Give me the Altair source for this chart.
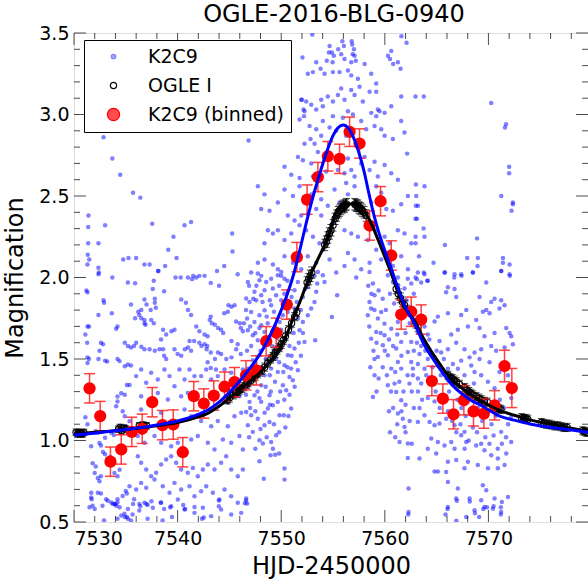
import altair as alt
import pandas as pd

# ---------------- data ----------------
SERIES = ["K2C9", "OGLE I", "K2C9 (binned)"]

# K2C9 unbinned photometry (HJD-2450000, magnification)
K2C9_POINTS = [
    # early, above 2
    (7532.85,2.86),(7533.7,2.73),(7534.46,2.63),(7535.7,2.52),(7536.4,2.49),(7531.4,2.38),(7531.37,2.31),
    (7533.0,2.32),(7537.55,2.33),(7540.67,2.32),(7541.3,2.34),(7545.27,2.27),(7531.37,2.21),(7532.36,2.21),
    (7539.6,2.25),(7539.1,2.17),(7539.9,2.12),(7545.3,2.16),(7531.33,2.14),(7531.47,2.11),(7531.3,2.08),
    (7532.36,2.06),(7534.75,2.11),(7535.26,2.12),(7536.0,2.12),(7536.8,2.08),(7537.3,2.08),(7538.16,2.04),
    (7538.8,2.07),(7544.5,2.07),(7543.8,2.04),(7532.36,2.02),(7545.8,2.02),(7533.7,2.0),(7539.8,2.0),
    (7540.3,2.0),(7541.0,2.0),(7541.4,1.99),(7552.05,3.35),(7552.0,3.09),(7552.15,3.03),(7552.2,2.99),
    # early, below 2
    (7532.4,2.03),(7531.3,1.91),(7531.2,1.92),(7532.85,1.86),(7532.9,1.845),(7533.65,1.78),(7532.36,1.77),
    (7531.3,1.70),(7531.45,1.70),(7531.1,1.65),(7531.27,1.60),(7532.8,1.59),(7532.6,1.6),(7532.46,1.55),
    (7531.3,1.51),(7531.45,1.50),(7532.36,1.50),(7533.0,1.49),(7533.2,1.485),(7531.3,1.475),(7531.1,1.143),
    (7531.3,1.10),(7531.66,0.965),(7531.8,0.86),(7532.1,0.84),(7532.0,0.80),(7532.3,0.77),(7532.46,0.75),
    (7532.6,0.78),(7531.66,0.68),(7531.7,0.64),(7532.3,0.68),(7532.6,0.675),(7533.1,0.64),(7533.26,0.63),
    (7533.6,0.62),(7533.9,0.61),(7534.07,0.60),(7534.2,0.62),(7534.4,0.59),(7534.2,0.64),(7534.56,0.54),
    (7534.9,0.53),(7535.2,0.58),(7535.1,0.53),(7535.7,0.61),(7535.8,0.64),(7536.0,0.70),(7535.0,0.69),
    (7535.36,0.72),(7533.9,0.80),(7534.2,0.78),(7534.4,0.82),(7533.5,0.90),(7533.26,0.89),(7532.8,0.93),
    (7533.0,0.915),(7532.6,0.97),(7532.46,0.985),(7533.0,1.017),(7532.1,1.057),(7532.3,1.047),(7533.6,1.047),
    (7533.85,1.033),(7535.2,1.057),(7535.0,1.088),(7535.36,1.118),(7534.9,1.149),(7534.7,1.18),(7534.07,1.21),
    (7534.2,1.24),(7534.2,1.27),(7534.56,1.29),(7534.9,1.28),(7535.1,1.34),(7535.36,1.34),(7534.9,1.456),
    (7535.2,1.466),(7535.5,1.46),(7534.9,1.60),(7535.2,1.58),(7535.5,1.57),(7535.8,1.58),(7534.2,1.50),
    (7534.4,1.487),(7534.2,1.70),(7534.07,1.685),(7535.5,1.835),(7535.9,1.75),(7536.2,1.79),(7536.5,1.80),
    (7536.8,1.865),(7537.0,1.835),(7537.4,1.80),(7537.8,1.845),(7537.9,1.815),(7536.3,1.77),(7536.5,1.75),
    (7536.8,1.72),(7536.9,1.71),(7535.2,1.97),(7535.9,1.965),(7537.7,1.98),(7538.1,2.04),(7538.7,1.915),
    (7536.0,1.60),(7536.5,1.575),(7536.8,1.56),(7537.3,1.56),(7537.8,1.55),(7538.25,1.56),(7538.4,1.62),
    (7538.6,1.56),(7538.7,1.52),(7538.9,1.50),(7539.4,1.67),(7539.7,1.68),(7540.35,1.865),(7540.8,1.845),
    (7541.0,1.80),(7541.3,1.77),(7541.5,2.01),(7541.8,2.0),(7542.1,2.01),(7542.6,2.01),(7543.2,1.967),
    (7544.0,1.95),(7537.6,1.93),(7537.8,1.87),(7536.8,1.74),(7537.45,1.74),(7537.7,1.72),(7538.6,1.68),
    (7538.9,1.65),(7539.7,1.56),(7540.0,1.53),(7540.35,1.52),(7540.7,1.56),(7541.0,1.57),(7541.3,1.55),
    (7541.15,1.61),(7541.6,1.61),(7542.1,1.60),(7542.6,1.59),(7542.86,1.58),(7541.8,1.70),(7542.1,1.67),
    (7542.6,1.65),(7542.9,1.64),(7543.1,1.74),(7543.3,1.72),(7543.6,1.71),(7543.2,1.76),(7543.9,1.69),
    (7544.2,1.68),(7544.4,1.66),(7544.5,1.78),(7544.85,1.79),(7544.9,1.83),(7545.2,1.82),(7545.5,1.83),
    (7545.65,1.73),(7546.0,1.72),(7546.1,1.69),(7546.3,1.67),(7546.4,1.72),(7545.2,1.61),(7545.8,1.59),
    (7545.65,1.56),(7546.1,1.53),(7543.9,1.54),(7544.2,1.53),(7544.7,1.50),(7545.2,1.51),(7542.3,1.58),
    (7542.8,1.56),(7543.2,1.54),(7543.6,1.50),(7542.9,1.48),(7543.2,1.445),(7543.7,1.435),
    # early, bottom edge
    (7531.66,0.65),(7531.8,0.60),(7532.0,0.58),(7533.75,0.61),(7534.0,0.61),(7534.7,0.66),(7535.1,0.675),
    (7536.3,0.61),(7537.0,0.61),(7536.3,0.57),(7534.87,0.55),(7535.2,0.52),(7534.2,0.52),(7532.9,0.51),
    (7531.5,0.59),(7532.75,0.60),(7535.65,0.546),(7535.5,0.51),(7536.4,0.597),(7537.1,0.604),(7537.47,0.627),
    (7538.37,0.62),(7538.7,0.58),(7539.28,0.59),(7539.46,0.53),(7538.55,0.51),(7537.1,0.52),(7542.53,0.528),
    (7542.36,0.52),(7541.63,0.592),(7540.54,0.604),(7540.72,0.58),(7543.98,0.597),(7543.98,0.632),
    (7546.5,0.615),(7546.6,0.632),
    # 7536-7546, below 1.5
    (7536.16,0.904),(7536.48,0.863),(7536.97,0.822),(7537.45,0.781),(7537.93,0.802),(7538.41,0.853),
    (7538.9,0.883),(7539.38,0.904),(7539.86,0.863),(7540.34,0.822),(7540.99,0.802),(7541.47,0.832),
    (7541.95,0.781),(7542.44,0.822),(7542.92,0.853),(7543.56,0.822),(7544.2,0.863),(7544.69,0.904),
    (7545.17,0.822),(7545.81,0.781),(7546.3,0.822),(7536.48,0.74),(7536.97,0.71),(7537.77,0.761),
    (7538.57,0.72),(7539.22,0.679),(7539.7,0.74),(7540.34,0.699),(7541.15,0.72),(7541.63,0.658),
    (7542.27,0.689),(7542.76,0.72),(7543.4,0.679),(7544.04,0.638),(7544.53,0.699),(7545.17,0.658),
    (7545.81,0.618),(7536.8,0.618),(7537.61,0.587),(7538.41,0.618),(7539.38,0.597),(7540.02,0.638),
    (7540.67,0.577),(7541.63,0.556),(7542.44,0.587),(7543.24,0.536),(7544.2,0.577),(7545.17,0.546),
    (7546.14,0.556),(7536.16,1.027),(7536.8,0.986),(7537.77,1.027),(7538.41,0.986),(7539.38,0.965),
    (7540.02,0.986),(7541.31,1.006),(7541.95,1.027),(7542.92,0.986),(7543.56,0.945),(7544.37,1.006),
    (7545.17,0.986),(7545.97,1.027),(7546.3,0.945),(7542.27,1.119),(7543.24,1.088),(7543.88,1.119),
    (7544.85,1.088),(7545.49,1.149),(7546.14,1.17),(7541.31,1.149),(7540.67,1.19),(7538.41,1.17),
    (7536.48,1.19),(7536.0,1.395),(7536.48,1.436),(7536.97,1.354),(7537.45,1.415),(7538.09,1.374),
    (7538.73,1.436),(7539.22,1.395),(7539.7,1.333),(7540.18,1.436),(7540.67,1.374),(7541.15,1.436),
    (7541.63,1.395),(7542.27,1.395),(7542.76,1.436),(7543.24,1.374),(7543.88,1.395),(7544.53,1.436),
    (7545.17,1.415),(7545.81,1.374),(7546.3,1.436),(7536.48,1.272),(7538.09,1.292),(7539.06,1.251),
    (7540.34,1.272),(7540.99,1.292),(7542.27,1.231),(7543.56,1.251),(7544.85,1.231),(7545.97,1.272),
    # peak region, above 2
    (7554.67,3.42),(7554.89,3.38),(7555.08,3.36),(7555.79,3.37),(7556.05,3.42),(7557.02,3.40),(7557.08,3.36),
    (7556.76,3.32),(7556.11,3.34),(7554.96,3.32),(7560.62,3.39),(7560.3,3.36),
    (7552.57,3.25),(7553.06,3.26),(7553.8,3.28),(7554.18,3.25),(7554.99,3.26),(7555.63,3.26),(7556.44,3.27),
    (7556.76,3.24),(7557.4,3.22),(7558.69,3.25),(7559.17,3.19),(7561.26,3.32),(7561.52,3.28),(7553.38,3.32),
    (7558.05,3.31),
    (7552.41,3.08),(7552.9,3.06),(7553.86,3.09),(7554.5,3.11),(7554.99,3.08),(7555.47,3.12),(7555.79,3.16),
    (7556.11,3.09),(7556.76,3.15),(7557.08,3.12),(7557.56,3.17),(7557.88,3.08),(7558.53,3.14),(7559.17,3.14),
    (7559.33,3.03),(7559.98,3.01),(7560.62,3.05),(7561.58,3.11),(7552.25,3.02),(7553.38,3.03),(7554.02,3.05),
    (7551.93,3.09),
    (7551.77,2.97),(7552.74,2.93),(7553.38,2.91),(7554.02,2.96),(7554.67,2.92),(7554.99,2.99),(7555.95,2.98),
    (7556.44,3.02),(7556.92,3.0),(7557.72,2.96),(7558.2,2.91),(7558.69,3.01),(7559.01,2.93),(7559.65,2.91),
    (7559.98,2.87),(7560.78,2.85),(7561.9,2.89),(7552.83,2.85),(7552.25,2.82),(7553.22,2.82),(7553.86,2.87),
    (7555.31,2.90),(7556.27,2.87),(7559.17,2.99),(7559.49,3.02),(7546.85,2.84),(7561.58,2.96),
    (7551.61,2.74),(7552.09,2.72),(7552.9,2.70),(7553.54,2.77),(7554.34,2.65),(7555.47,2.66),(7556.11,2.64),
    (7556.76,2.66),(7557.72,2.70),(7558.05,2.74),(7558.53,2.66),(7559.01,2.71),(7559.33,2.62),(7559.98,2.69),
    (7560.62,2.64),(7561.26,2.60),(7562.16,2.76),(7550.32,2.68),(7550.97,2.63),(7551.77,2.61),(7553.06,2.62),
    (7556.44,2.73),(7557.08,2.62),
    (7547.75,2.56),(7548.39,2.51),(7550.32,2.54),(7551.13,2.50),(7551.77,2.56),(7552.25,2.46),(7552.9,2.51),
    (7553.38,2.42),(7553.86,2.48),(7554.5,2.44),(7555.15,2.54),(7555.63,2.46),(7556.27,2.58),(7556.44,2.51),
    (7557.08,2.56),(7557.56,2.44),(7558.69,2.46),(7559.17,2.56),(7559.65,2.52),(7560.14,2.42),(7560.78,2.41),
    (7561.58,2.45),(7562.23,2.50),(7548.07,2.42),(7548.87,2.41),(7549.68,2.46),(7550.64,2.38),(7551.93,2.38),
    (7552.57,2.39),(7553.86,2.38),
    (7549.2,2.27),(7549.68,2.29),(7550.32,2.23),(7551.29,2.35),(7551.77,2.32),(7552.41,2.29),(7553.06,2.25),
    (7553.7,2.21),(7554.5,2.25),(7554.99,2.34),(7556.11,2.29),(7556.76,2.27),(7557.4,2.25),(7558.37,2.23),
    (7559.17,2.29),(7559.98,2.25),(7560.46,2.21),(7561.26,2.29),(7561.9,2.27),(7562.55,2.21),(7548.39,2.21),
    (7548.71,2.29),(7550.97,2.27),
    (7547.75,2.09),(7548.39,2.11),(7549.2,2.08),(7549.68,2.05),(7550.32,2.13),(7551.13,2.09),(7551.93,2.05),
    (7552.57,2.13),(7553.38,2.09),(7554.02,2.17),(7554.67,2.11),(7555.31,2.03),(7556.11,2.07),(7556.44,2.15),
    (7557.08,2.11),(7557.72,2.05),(7558.53,2.09),(7559.17,2.17),(7559.65,2.11),(7560.78,2.07),(7561.58,2.13),
    (7562.23,2.05),(7547.1,2.03),(7548.07,2.01),(7550.0,2.01),(7553.22,2.01),(7557.24,2.0),(7561.26,2.0),
    (7553.0,3.49),(7555.9,3.45),(7556.8,3.45),(7556.85,3.43),(7561.6,3.48),(7562.1,3.44),(7554.6,3.38),
    (7555.5,3.40),(7556.9,3.37),(7557.2,3.33),(7560.5,3.34),(7560.8,3.31),(7554.4,3.33),
    # rise, below 2
    (7547.74,2.024),(7547.9,1.983),(7546.78,1.973),(7547.42,1.912),(7546.62,1.871),(7546.94,1.85),
    (7547.58,1.86),(7548.07,1.891),(7548.39,1.922),(7548.55,1.973),(7549.03,1.993),(7549.67,2.014),
    (7550.0,2.034),(7550.32,1.993),(7549.19,1.932),(7549.51,1.891),(7550.0,1.86),(7549.03,1.83),
    (7548.39,1.799),(7547.9,1.768),(7547.1,1.789),(7546.71,1.748),(7547.42,1.727),(7548.07,1.707),
    (7546.78,1.676),(7547.26,1.646),(7547.74,1.615),(7548.39,1.666),(7548.87,1.635),(7549.35,1.686),
    (7549.84,1.727),(7550.16,1.768),(7550.64,1.789),(7551.28,1.81),(7551.61,1.748),(7550.96,1.697),
    (7551.77,1.676),(7552.09,1.727),(7552.57,1.768),(7553.21,1.85),(7553.38,1.912),(7554.18,1.973),
    (7554.02,2.014),(7552.57,1.942),(7551.61,1.973),(7551.28,1.922),(7552.09,1.881),(7552.89,1.81),
    (7552.25,1.605),(7551.28,1.564),(7550.64,1.523),(7550.0,1.564),(7549.51,1.502),(7548.71,1.482),
    (7547.9,1.523),(7547.26,1.492),(7546.78,1.441),(7547.74,1.421),(7547.42,1.38),(7548.39,1.40),
    (7549.03,1.441),(7549.67,1.421),(7550.32,1.462),(7550.96,1.441),(7550.8,1.39),(7551.12,1.37),
    (7551.61,1.431),(7550.16,1.339),(7550.48,1.308),(7549.67,1.237),(7549.19,1.216),(7548.71,1.196),
    (7548.07,1.237),(7547.42,1.278),(7546.94,1.237),(7546.62,1.175),(7547.1,1.155),(7547.74,1.134),
    (7546.78,1.094),(7547.26,1.053),(7548.39,1.094),(7548.87,1.114),(7549.51,1.032),(7549.03,0.991),
    (7547.9,1.001),(7548.23,0.981),(7547.9,0.873),(7548.32,0.766),(7548.97,0.909),(7549.42,0.913),
    (7550.32,0.828),(7550.32,0.76),(7546.62,0.644),(7546.71,0.613),(7549.84,1.155),(7550.25,1.155),
    (7550.96,1.196),(7548.07,1.339),(7548.87,1.278),
    (7554.89,1.758),(7555.4,1.891),(7553.28,1.615),(7553.54,2.034),(7553.47,1.963),
    (7546.9,1.95),(7547.3,1.87),(7547.6,1.95),(7548.2,1.85),(7548.6,1.76),(7548.9,1.86),(7549.3,1.79),
    (7549.8,1.95),(7550.3,1.90),(7550.6,1.98),(7551.0,1.88),(7551.5,1.85),(7551.9,1.80),(7552.3,1.93),
    (7546.6,1.80),(7547.0,1.70),(7547.5,1.66),(7547.9,1.69),(7548.3,1.60),(7548.7,1.72),(7549.1,1.58),
    (7549.6,1.63),(7550.0,1.68),(7550.4,1.62),(7550.8,1.58),(7551.2,1.66),(7551.7,1.60),(7552.1,1.66),
    (7546.7,1.55),(7547.1,1.58),(7547.5,1.48),(7548.0,1.55),(7548.5,1.50),(7548.9,1.40),(7549.3,1.55),
    (7549.8,1.48),(7550.2,1.42),(7550.6,1.45),(7551.0,1.52),(7551.4,1.48),(7551.9,1.52),
    (7546.8,1.33),(7547.2,1.40),(7547.7,1.30),(7548.1,1.45),(7548.5,1.33),(7549.0,1.30),(7549.4,1.36),
    (7549.9,1.30),(7550.3,1.25),(7550.8,1.28),(7551.3,1.33),
    (7546.6,1.28),(7547.0,1.20),(7547.5,1.18),(7547.9,1.26),(7548.4,1.17),(7548.9,1.22),(7549.3,1.10),
    (7549.8,1.05),(7550.4,1.08),(7550.7,1.15),(7546.9,1.02),(7547.5,0.95),(7548.0,1.07),(7548.6,1.02),
    (7549.2,0.95),(7549.8,0.92),
    # decline, below 2
    (7558.52,2.034),(7558.85,1.963),(7559.01,1.891),(7558.52,1.85),(7558.68,1.81),(7558.36,1.768),
    (7559.17,1.666),(7558.68,1.625),(7559.33,1.513),(7559.01,1.40),(7558.85,1.267),(7559.97,1.646),
    (7560.29,1.523),(7559.81,1.584),(7560.62,1.441),(7560.94,1.349),(7561.1,1.298),(7561.58,1.247),
    (7561.26,1.165),(7561.74,1.134),(7561.9,1.083),(7561.42,0.991),(7562.22,0.981),(7562.22,0.893),
    (7562.29,0.705),(7562.29,0.562),(7560.29,1.339),(7561.1,1.564),(7561.58,1.605),(7562.22,1.543),
    (7562.55,1.482),(7562.71,1.441),(7559.97,1.717),(7560.62,1.686),(7561.26,1.727),(7561.9,1.932),
    (7562.22,1.993),(7562.55,1.963),(7560.29,2.014),(7560.78,1.973),(7559.33,1.748),(7559.65,1.789),
    (7562.55,1.605),(7562.71,1.40),(7562.38,1.349),(7561.58,1.441),(7561.26,1.482),
    (7558.4,1.95),(7558.7,1.90),(7559.0,1.80),(7559.4,1.92),(7559.8,1.87),(7560.1,1.80),(7560.5,1.90),
    (7560.9,1.84),(7561.3,1.95),(7561.7,1.78),(7562.1,1.86),(7562.5,1.80),(7562.8,1.90),
    (7558.5,1.70),(7558.9,1.55),(7559.2,1.60),(7559.6,1.66),(7560.0,1.55),(7560.4,1.62),(7560.8,1.58),
    (7561.2,1.65),(7561.6,1.52),(7562.0,1.66),(7562.4,1.72),(7562.8,1.55),
    (7558.6,1.45),(7559.0,1.50),(7559.4,1.38),(7559.8,1.45),(7560.2,1.40),(7560.6,1.30),(7561.0,1.42),
    (7561.4,1.36),(7561.8,1.30),(7562.2,1.40),(7562.6,1.30),
    (7559.2,1.30),(7560.4,1.18),(7560.8,1.20),(7561.2,1.10),(7561.6,1.18),(7562.0,1.22),(7562.4,1.12),
    (7562.8,1.20),(7560.5,1.05),(7561.0,1.02),(7562.0,1.05),(7562.6,0.98),
    # late, above 2
    (7562.96,3.11),(7563.76,3.11),(7570.27,3.07),(7571.7,2.94),(7571.6,2.92),(7572.0,2.68),(7572.0,2.64),
    (7563.0,2.57),(7563.83,2.56),(7563.03,2.50),(7563.0,2.44),(7563.2,2.44),(7562.96,2.36),(7563.1,2.36),
    (7563.74,2.30),(7563.83,2.25),(7562.97,2.25),(7562.97,2.21),(7568.9,2.24),(7565.8,2.20),(7563.3,2.13),
    (7564.7,2.09),(7567.95,2.12),(7568.98,2.12),(7568.95,2.07),(7571.4,2.12),(7571.4,2.09),(7572.04,2.08),
    (7571.24,2.04),(7572.07,2.01),(7563.76,2.03),(7565.8,2.03),(7566.7,2.0),(7567.4,2.01),(7568.5,2.03),
    (7562.96,2.0),(7563.1,1.99),(7564.1,1.98),(7571.24,2.50),(7572.36,2.46),(7572.36,2.45),(7572.23,2.41),
    # late, below 2
    (7563.19,2.03),(7563.83,2.02),(7563.51,1.97),(7564.15,1.98),(7565.76,2.03),(7566.73,2.02),(7567.37,2.02),
    (7568.5,2.03),(7569.79,1.97),(7571.23,2.04),(7572.04,2.02),(7566.09,1.94),(7566.73,1.93),(7565.92,1.91),
    (7566.89,1.88),(7569.14,1.88),(7570.59,1.87),(7570.27,1.85),(7571.23,1.86),(7571.56,1.83),(7571.07,1.81),
    (7570.11,1.78),(7569.79,1.80),(7569.46,1.79),(7567.86,1.80),(7568.82,1.74),(7567.37,1.77),(7566.09,1.78),
    (7565.12,1.76),(7564.8,1.73),(7563.83,1.70),(7563.19,1.66),(7564.15,1.65),(7565.28,1.61),(7566.41,1.65),
    (7567.05,1.68),(7568.02,1.70),(7569.14,1.69),(7569.62,1.64),(7570.59,1.66),(7571.72,1.69),(7572.04,1.66),
    (7572.2,1.64),(7572.36,1.59),(7571.56,1.57),(7570.75,1.55),(7570.27,1.58),(7569.3,1.56),(7568.66,1.54),
    (7568.18,1.51),(7567.69,1.56),(7566.89,1.60),(7566.09,1.56),(7565.44,1.54),(7564.8,1.51),(7564.15,1.50),
    (7563.35,1.53),(7563.19,1.47),(7563.83,1.44),(7565.12,1.46),(7566.09,1.44),(7566.57,1.47),(7567.37,1.49),
    (7568.34,1.46),(7569.14,1.50),(7570.11,1.48),(7569.3,1.40),(7568.66,1.42),(7567.69,1.40),(7567.05,1.44),
    (7569.95,1.36),(7571.07,1.42),(7571.88,1.40),(7570.59,1.32),(7572.2,1.26),(7563.19,1.38),(7563.51,1.35),
    (7564.15,1.26),(7564.8,1.24),(7563.35,1.20),(7563.83,1.155),(7563.19,1.114),(7564.32,1.114),(7564.8,1.094),
    (7565.28,1.104),(7565.92,1.134),(7566.73,1.094),(7567.69,1.053),(7567.37,1.032),(7566.41,0.991),
    (7565.76,0.97),(7565.12,0.991),(7564.48,1.012),(7564.15,0.95),(7564.96,0.92),(7566.73,0.95),
    (7567.86,0.991),(7568.82,0.97),(7569.62,0.94),(7570.27,0.91),(7570.91,0.89),(7571.72,0.92),(7572.2,0.991),
    (7571.23,1.053),(7563.35,0.89),(7566.09,0.87),(7566.89,0.88),(7568.02,0.87),(7568.98,0.85),(7569.95,0.83),
    (7570.91,0.83),(7571.56,0.85),(7567.69,0.83),(7564.8,0.81),(7565.12,0.81),(7565.92,0.807),(7566.09,0.746),
    (7567.05,0.705),(7566.89,0.644),(7568.18,0.644),(7569.46,0.725),(7569.79,0.695),(7569.3,0.633),
    (7570.59,0.644),(7571.3,0.623),(7571.88,0.654),(7566.09,0.592),(7568.66,0.572),(7570.43,0.582),
    (7571.23,0.562),(7567.86,0.531),(7569.62,0.592),
    (7562.26,0.546),(7565.86,0.546),(7566.05,0.58),(7566.9,0.507),(7566.96,0.63),(7568.2,0.626),(7568.7,0.553),
    (7569.1,0.53),(7569.5,0.58),(7569.86,0.59),(7570.5,0.597),(7571.2,0.59),(7571.2,0.546),
    (7563.1,1.60),(7563.5,1.58),(7563.9,1.55),(7564.3,1.62),(7564.6,1.45),(7565.0,1.55),(7565.4,1.40),
    (7565.7,1.50),(7566.2,1.30),(7566.6,1.35),(7567.0,1.25),(7567.4,1.20),(7567.8,1.15),(7568.2,1.30),
    (7568.6,1.35),(7569.0,1.20),(7569.4,1.12),(7569.8,1.25),(7570.3,1.10),(7570.7,1.15),(7571.1,1.25),
    (7571.5,1.20),(7571.9,1.10),(7572.2,1.15),
    (7563.2,1.30),(7563.6,1.25),(7564.0,1.40),(7564.4,1.35),(7564.9,1.30),(7565.3,1.20),(7565.7,1.25),
    (7566.1,1.18),(7566.5,1.12),(7566.9,1.05),(7567.3,1.10),(7567.7,0.95),(7568.1,1.00),(7568.5,1.08),
    (7568.9,1.05),(7569.3,0.98),(7569.7,1.02),(7570.1,0.98),(7570.5,1.03),(7570.9,0.95),(7571.3,0.98),
    (7571.7,1.02),
]
K2C9_T = [p[0] for p in K2C9_POINTS]
K2C9_A = [p[1] for p in K2C9_POINTS]

# OGLE I photometry
OGLE_T = [7530.2, 7530.35, 7530.5, 7530.65, 7530.8, 7530.95,
          7534.3, 7534.45, 7534.6, 7534.8, 7535.0,
          7536.3, 7536.5, 7536.65, 7536.8, 7537.0,
          7544.8, 7545.0,
          7545.4, 7545.6, 7545.8, 7546.0, 7546.2, 7546.4, 7546.6, 7546.8,
          7547.1, 7547.3, 7547.5, 7547.7, 7547.9, 7548.1, 7548.4, 7548.7,
          7549.0, 7549.2, 7549.4, 7549.6, 7549.8, 7550.0, 7550.2, 7550.4, 7550.7, 7551.0,
          7551.3, 7551.5,
          7552.5, 7552.65, 7552.8, 7552.95,
          7554.2, 7554.35, 7554.5, 7554.65, 7554.8, 7555.0,
          7555.2, 7555.35, 7555.5, 7555.6, 7555.75, 7555.9, 7556.0, 7556.1, 7556.2, 7556.3,
          7557.1, 7557.2, 7557.3, 7557.4, 7557.5, 7557.6, 7557.7, 7557.85, 7558.0, 7558.2,
          7561.1, 7561.3, 7561.5, 7561.7, 7561.9, 7562.1,
          7563.0, 7563.2,
          7566.1, 7566.3, 7566.5, 7566.7, 7566.9, 7567.2,
          7567.7, 7567.9, 7568.1, 7568.3, 7568.5, 7568.8, 7569.1, 7569.3, 7569.6, 7569.9,
          7570.6, 7570.8, 7571.0, 7571.2,
          7573.2, 7573.4, 7573.6, 7573.8,
          7575.1, 7575.35, 7575.6, 7575.85, 7576.1,
          7576.4, 7576.7, 7577.0, 7577.3, 7577.6,
          7579.1, 7579.3, 7579.5]
OGLE_A = [1.05, 1.04, 1.05, 1.045, 1.04, 1.05,
          1.07, 1.08, 1.06, 1.075, 1.07,
          1.09, 1.08, 1.095, 1.085, 1.09,
          1.25, 1.26,
          1.28, 1.29, 1.30, 1.31, 1.32, 1.33, 1.345, 1.355,
          1.37, 1.385, 1.395, 1.41, 1.42, 1.43, 1.45, 1.475,
          1.50, 1.515, 1.535, 1.555, 1.57, 1.59, 1.615, 1.64, 1.68, 1.72,
          1.76, 1.785,
          1.97, 1.99, 2.01, 2.03,
          2.20, 2.22, 2.245, 2.27, 2.29, 2.32,
          2.36, 2.38, 2.40, 2.41, 2.42, 2.43, 2.44, 2.435, 2.445, 2.45,
          2.45, 2.445, 2.44, 2.44, 2.43, 2.425, 2.42, 2.41, 2.40, 2.38,
          1.93, 1.90, 1.875, 1.85, 1.83, 1.80,
          1.72, 1.70,
          1.40, 1.385, 1.38, 1.37, 1.36, 1.345,
          1.325, 1.31, 1.30, 1.29, 1.28, 1.27, 1.26, 1.25, 1.24, 1.235,
          1.205, 1.20, 1.195, 1.19,
          1.14, 1.135, 1.135, 1.13,
          1.11, 1.105, 1.10, 1.10, 1.095,
          1.09, 1.09, 1.085, 1.08, 1.08,
          1.06, 1.055, 1.05]
OGLE_E = [0.02] * 16 + [0.025] * 30 + [0.035] * 30 + [0.03] * 8 + [0.025] * 37

# K2C9 binned photometry
BIN_T = [7531.5, 7532.53, 7533.52, 7534.56, 7535.58, 7536.58, 7537.55, 7538.54, 7539.58, 7540.5,
         7541.56, 7542.53, 7543.49, 7544.53, 7545.49, 7546.6, 7547.6, 7548.55, 7549.52, 7550.54,
         7551.51, 7552.5, 7553.54, 7554.5, 7555.63, 7556.6, 7557.56, 7558.53, 7559.59, 7560.62,
         7561.58, 7562.55, 7563.51, 7564.54, 7565.6, 7566.63, 7567.63, 7568.56, 7569.56, 7570.59,
         7571.55, 7572.26]
BIN_A = [1.32, 1.15, 0.87, 0.945, 1.053, 1.072, 1.235, 1.094, 1.098, 0.928,
         1.272, 1.227, 1.276, 1.33, 1.358, 1.40, 1.43, 1.609, 1.661, 1.834,
         2.125, 2.478, 2.616, 2.744, 2.728, 2.894, 2.822, 2.319, 2.468, 2.135,
         1.773, 1.79, 1.742, 1.365, 1.257, 1.161, 1.247, 1.179, 1.165, 1.216,
         1.457, 1.322]
BIN_E = [0.09] * 40 + [0.097, 0.12]

# model curves
MOD_OGLE_T = [7530, 7532, 7534, 7536, 7538, 7540, 7542, 7543, 7544, 7545, 7546, 7547, 7548, 7549, 7550,
              7550.6, 7551.2, 7551.8, 7552.4, 7553.0, 7553.6, 7554.2, 7554.7, 7555.2, 7555.7, 7556.2,
              7556.8, 7557.3, 7557.8, 7558.2, 7558.7, 7559.2, 7559.7, 7560.1, 7560.6, 7561.1, 7561.6,
              7562.2, 7562.9, 7563.7, 7564.5, 7565.3, 7566.1, 7566.9, 7567.7, 7568.5, 7569.3, 7570.1,
              7570.9, 7572.5, 7574.1, 7575.7, 7577.3, 7579.6]
MOD_OGLE_A = [1.04, 1.05, 1.06, 1.075, 1.09, 1.11, 1.145, 1.17, 1.21, 1.26, 1.31, 1.365, 1.42, 1.49, 1.58,
              1.66, 1.76, 1.85, 1.95, 2.04, 2.12, 2.20, 2.28, 2.385, 2.43, 2.448,
              2.452, 2.447, 2.425, 2.39, 2.33, 2.255, 2.175, 2.11, 2.03, 1.94, 1.86,
              1.79, 1.73, 1.63, 1.545, 1.47, 1.40, 1.35, 1.31, 1.275, 1.245, 1.215,
              1.19, 1.155, 1.125, 1.104, 1.085, 1.055]
MOD_K2_T = [7530, 7532, 7534, 7536, 7538, 7540, 7542, 7543, 7544, 7545, 7546, 7547, 7548, 7549, 7550,
            7550.6, 7551.2, 7551.8, 7552.4, 7553.0, 7553.5, 7554.0, 7554.5, 7555.0, 7555.5, 7556.0,
            7556.5, 7557.0, 7557.5, 7558.0, 7558.5, 7559.0, 7559.5, 7560.0, 7560.7, 7561.3, 7561.9,
            7562.9, 7563.7, 7564.5, 7565.3, 7566.1, 7566.9, 7567.7, 7568.5, 7569.3, 7570.1, 7570.9,
            7572.5, 7574.1, 7575.7, 7577.3, 7579.6]
MOD_K2_A = [1.035, 1.045, 1.06, 1.075, 1.095, 1.12, 1.16, 1.19, 1.235, 1.295, 1.365, 1.445, 1.535, 1.655, 1.80,
            1.90, 2.02, 2.17, 2.33, 2.48, 2.59, 2.695, 2.79, 2.87, 2.92, 2.935,
            2.915, 2.855, 2.765, 2.65, 2.505, 2.37, 2.26, 2.165, 2.04, 1.93, 1.83,
            1.715, 1.60, 1.515, 1.44, 1.37, 1.315, 1.275, 1.24, 1.215, 1.185, 1.155,
            1.125, 1.10, 1.083, 1.07, 1.05]

X_MAJOR = [7530, 7540, 7550, 7560, 7570]
X_MINOR = [7532, 7534, 7536, 7538, 7542, 7544, 7546, 7548, 7552, 7554, 7556, 7558,
           7562, 7564, 7566, 7568, 7572, 7574, 7576, 7578]
Y_MAJOR = [0.5, 1.0, 1.5, 2.0, 2.5, 3.0, 3.5]
Y_MINOR = [0.6, 0.7, 0.8, 0.9, 1.1, 1.2, 1.3, 1.4, 1.6, 1.7, 1.8, 1.9, 2.1, 2.2, 2.3, 2.4,
           2.6, 2.7, 2.8, 2.9, 3.1, 3.2, 3.3, 3.4]

# ---------------- chart ----------------
W, H = 514, 489
FONT = "DejaVu Sans"

df_k2 = pd.DataFrame({"t": K2C9_T, "A": K2C9_A, "series": SERIES[0]})
df_og = pd.DataFrame({"t": OGLE_T, "A": OGLE_A, "e": OGLE_E})
df_og["lo"] = df_og["A"] - df_og["e"]
df_og["hi"] = df_og["A"] + df_og["e"]
df_og["series"] = SERIES[1]
df_bin = pd.DataFrame({"t": BIN_T, "A": BIN_A, "e": BIN_E})
df_bin["lo"] = df_bin["A"] - df_bin["e"]
df_bin["hi"] = df_bin["A"] + df_bin["e"]
df_bin["series"] = SERIES[2]
df_mk2 = pd.DataFrame({"t": MOD_K2_T, "A": MOD_K2_A})
df_mog = pd.DataFrame({"t": MOD_OGLE_T, "A": MOD_OGLE_A})

xs = alt.Scale(domain=[7530, 7579.61], nice=False, zero=False)
ys = alt.Scale(domain=[0.5, 3.5], nice=False, zero=False)
xax = alt.Axis(values=X_MAJOR, format="d", ticks=False, domain=False, grid=False,
               labelPadding=7, titlePadding=6, labelFontSize=19, titleFontSize=24,
               titleFontWeight="normal", labelFont=FONT, titleFont=FONT)
yax = alt.Axis(values=Y_MAJOR, format=".1f", ticks=False, domain=False, grid=False,
               labelPadding=5, titlePadding=11, labelFontSize=19, titleFontSize=24,
               titleFontWeight="normal", labelFont=FONT, titleFont=FONT)


def X(f):
    return alt.X(f"{f}:Q", scale=xs, axis=xax, title="HJD-2450000")


def Y(f):
    return alt.Y(f"{f}:Q", scale=ys, axis=yax, title="Magnification")


leg = alt.Legend(title=None, orient="none", legendX=10, legendY=7, strokeColor="black",
                 fillColor="white", padding=7, labelFontSize=19, labelFont=FONT,
                 symbolOffset=13, labelOffset=25, rowPadding=9, symbolType="circle",
                 symbolStrokeWidth=1.2, labelExpr="datum.label + '\u00a0'")
fill = alt.Fill("series:N", scale=alt.Scale(domain=SERIES, range=["#0000ff", "transparent", "#ff0000"]),
                legend=leg)
stroke = alt.Stroke("series:N", scale=alt.Scale(domain=SERIES, range=["#0000ff", "#000000", "#ff0000"]),
                    legend=leg)
size = alt.Size("series:N", scale=alt.Scale(type="ordinal", domain=SERIES, range=[20, 40, 150]),
                legend=leg)
opac = alt.Opacity("series:N", scale=alt.Scale(type="ordinal", domain=SERIES, range=[0.5, 1.0, 1.0]),
                   legend=leg)

k2_layer = alt.Chart(df_k2).mark_circle(clip=True).encode(
    x=X("t"), y=Y("A"), fill=fill, size=size, opacity=opac)

og_bars = alt.Chart(df_og).mark_rule(color="black", strokeWidth=1).encode(x=X("t"), y=Y("lo"), y2="hi")
og_cap_lo = alt.Chart(df_og).mark_tick(orient="horizontal", size=7, thickness=1, color="black").encode(
    x=X("t"), y=Y("lo"))
og_cap_hi = alt.Chart(df_og).mark_tick(orient="horizontal", size=7, thickness=1, color="black").encode(
    x=X("t"), y=Y("hi"))
og_pts = alt.Chart(df_og).mark_point(filled=False, strokeWidth=1.1).encode(
    x=X("t"), y=Y("A"), stroke=stroke, size=size, opacity=opac)

bin_bars = alt.Chart(df_bin).mark_rule(color="#ff2020", strokeWidth=1.5, opacity=0.85).encode(
    x=X("t"), y=Y("lo"), y2="hi")
bin_cap_lo = alt.Chart(df_bin).mark_tick(orient="horizontal", size=11, thickness=1.5, color="#ff2020",
                                         opacity=0.85).encode(x=X("t"), y=Y("lo"))
bin_cap_hi = alt.Chart(df_bin).mark_tick(orient="horizontal", size=11, thickness=1.5, color="#ff2020",
                                         opacity=0.85).encode(x=X("t"), y=Y("hi"))
bin_pts = alt.Chart(df_bin).mark_circle().encode(x=X("t"), y=Y("A"), fill=fill, size=size, opacity=opac)

line_og = alt.Chart(df_mog).mark_line(color="black", strokeWidth=3, interpolate="monotone", clip=True).encode(
    x=X("t"), y=Y("A"))
line_k2 = alt.Chart(df_mk2).mark_line(color="#0000ff", strokeWidth=3, interpolate="monotone", clip=True).encode(
    x=X("t"), y=Y("A"))


def xticks(vals, size, ypix, off):
    return alt.Chart(pd.DataFrame({"v": vals})).mark_tick(
        orient="vertical", size=size, thickness=1, color="black", yOffset=off).encode(
        x=X("v"), y=alt.value(ypix))


def yticks(vals, size, xpix, off):
    return alt.Chart(pd.DataFrame({"v": vals})).mark_tick(
        orient="horizontal", size=size, thickness=1, color="black", xOffset=off).encode(
        y=Y("v"), x=alt.value(xpix))


tick_layers = [
    xticks(X_MAJOR, 12, H, -6), xticks(X_MINOR, 6, H, -3),
    xticks(X_MAJOR, 12, 0, 6), xticks(X_MINOR, 6, 0, 3),
    yticks(Y_MAJOR, 12, 0, 6), yticks(Y_MINOR, 6, 0, 3),
    yticks(Y_MAJOR, 12, W, -6), yticks(Y_MINOR, 6, W, -3),
]

chart = alt.layer(
    k2_layer, og_bars, og_cap_lo, og_cap_hi, og_pts,
    bin_bars, bin_cap_lo, bin_cap_hi, bin_pts,
    line_og, line_k2, *tick_layers
).properties(
    width=W, height=H,
    title=alt.Title("OGLE-2016-BLG-0940", fontSize=24, font=FONT, fontWeight="normal",
                    anchor="middle", offset=8, dy=11, dx=3, color="black"),
    autosize=alt.AutoSizeParams(type="none"),
    padding={"left": 74, "top": 33, "right": 0, "bottom": 61},
).configure_view(
    stroke="black", strokeWidth=1
).configure_axis(
    labelColor="black", titleColor="black"
).configure(background="white")

chart.save("out.html", embed_options={"renderer": "svg", "actions": False})
